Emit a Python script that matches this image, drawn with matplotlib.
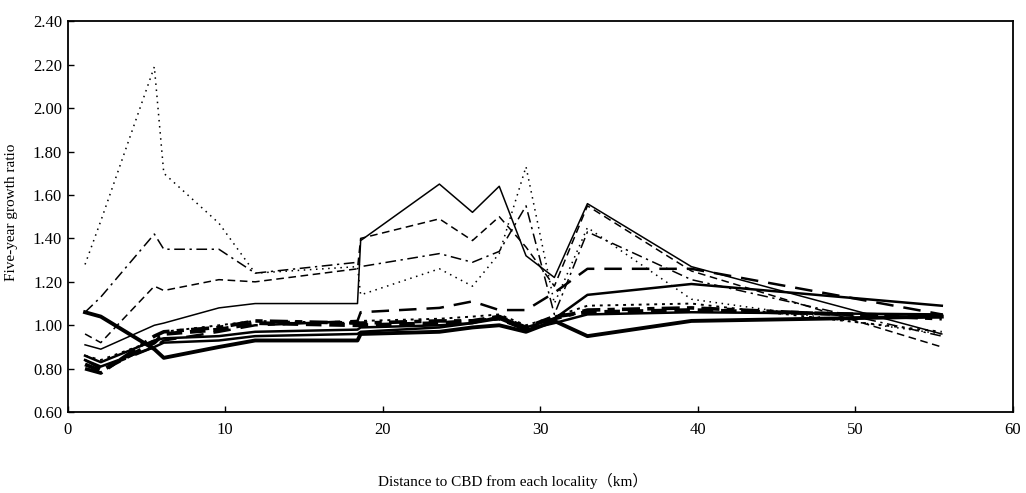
import numpy as np
import matplotlib.pyplot as plt

plt.rcParams['font.family'] = ['Liberation Serif', 'DejaVu Serif']

# distance of each locality to CBD (km)
dist = [1.1, 2.1, 5.5, 6.1, 9.6, 11.9, 18.4, 18.6, 23.6, 25.7, 27.4, 29.1, 30.9, 33.0, 39.6, 55.5]

# five-year growth ratios, one list per period
s_dot = [1.28, 1.48, 2.19, 1.70, 1.47, 1.24, 1.27, 1.14, 1.26, 1.18, 1.33, 1.73, 1.10, 1.45, 1.12, 0.96]
s_dashdot = [1.06, 1.13, 1.42, 1.35, 1.35, 1.24, 1.29, 1.27, 1.33, 1.29, 1.34, 1.55, 1.05, 1.43, 1.21, 0.95]
s_dash = [0.96, 0.92, 1.18, 1.16, 1.21, 1.20, 1.26, 1.40, 1.49, 1.39, 1.50, 1.36, 1.18, 1.55, 1.25, 0.90]
s_solid = [0.91, 0.89, 1.00, 1.01, 1.08, 1.10, 1.10, 1.39, 1.65, 1.52, 1.64, 1.32, 1.22, 1.56, 1.27, 0.96]
s_solid2 = [0.86, 0.83, 0.93, 0.94, 0.95, 0.97, 0.98, 0.99, 1.00, 1.01, 1.04, 0.99, 1.03, 1.14, 1.19, 1.09]
s_longdash = [0.84, 0.80, 0.90, 0.93, 0.97, 1.00, 1.02, 1.06, 1.08, 1.11, 1.07, 1.07, 1.15, 1.26, 1.26, 1.05]
s_thick = [1.06, 1.04, 0.89, 0.85, 0.90, 0.93, 0.93, 0.96, 0.97, 0.99, 1.00, 0.97, 1.02, 0.95, 1.02, 1.04]
s_thickdash = [0.82, 0.79, 0.92, 0.96, 0.98, 1.01, 1.00, 1.00, 1.01, 1.02, 1.04, 0.99, 1.04, 1.06, 1.07, 1.04]
s_thickdd = [0.80, 0.78, 0.95, 0.97, 0.99, 1.02, 1.01, 1.01, 1.02, 1.02, 1.03, 0.98, 1.03, 1.07, 1.08, 1.03]
s_medsolid = [0.84, 0.81, 0.90, 0.92, 0.93, 0.95, 0.96, 0.97, 0.99, 1.01, 1.03, 0.98, 1.01, 1.05, 1.06, 1.05]
s_dot2 = [0.86, 0.84, 0.93, 0.97, 1.00, 1.02, 1.01, 1.02, 1.03, 1.04, 1.05, 1.00, 1.04, 1.09, 1.10, 0.97]

fig = plt.figure(figsize=(10.26, 4.93), dpi=100)
ax = fig.add_axes([0.066, 0.164, 0.921, 0.793])

ax.plot(dist, s_dot, color='k', lw=1.1, ls=(0, (1, 3)))
ax.plot(dist, s_dashdot, color='k', lw=1.1, ls=(0, (7, 3, 1.5, 3)))
ax.plot(dist, s_dash, color='k', lw=1.1, ls=(0, (5, 3)))
ax.plot(dist, s_solid, color='k', lw=1.1)
ax.plot(dist, s_dot2, color='k', lw=1.4, ls=(0, (1.5, 2.5)))
ax.plot(dist, s_medsolid, color='k', lw=1.8)
ax.plot(dist, s_solid2, color='k', lw=1.8)
ax.plot(dist, s_longdash, color='k', lw=1.8, ls=(0, (7, 4)))
ax.plot(dist, s_thickdash, color='k', lw=2.8, ls=(0, (4, 2)))
ax.plot(dist, s_thickdd, color='k', lw=2.6, ls=(0, (5, 2, 2, 2)))
ax.plot(dist, s_thick, color='k', lw=2.8)

ax.set_xlim(0, 60)
ax.set_ylim(0.60, 2.40)
ax.set_xticks(range(0, 61, 10))
ax.set_yticks(np.arange(0.60, 2.41, 0.20))
ax.set_yticklabels(['%.2f' % v for v in np.arange(0.60, 2.41, 0.20)])
ax.tick_params(direction='in', length=4, width=1, labelsize=12)
ax.tick_params(axis='x', pad=7)
ax.tick_params(axis='y', pad=4)
for sp in ax.spines.values():
    sp.set_linewidth(1.3)

ax.set_ylabel('Five-year growth ratio', fontsize=11)
ax.yaxis.set_label_coords(-0.053, 0.51)
fig.text(0.5, 0.025, 'Distance to CBD from each locality\uff08km\uff09', ha='center', va='center',
         fontsize=11, family=['Liberation Serif', 'Noto Sans CJK SC'])

fig.savefig('out.png', dpi=100)
